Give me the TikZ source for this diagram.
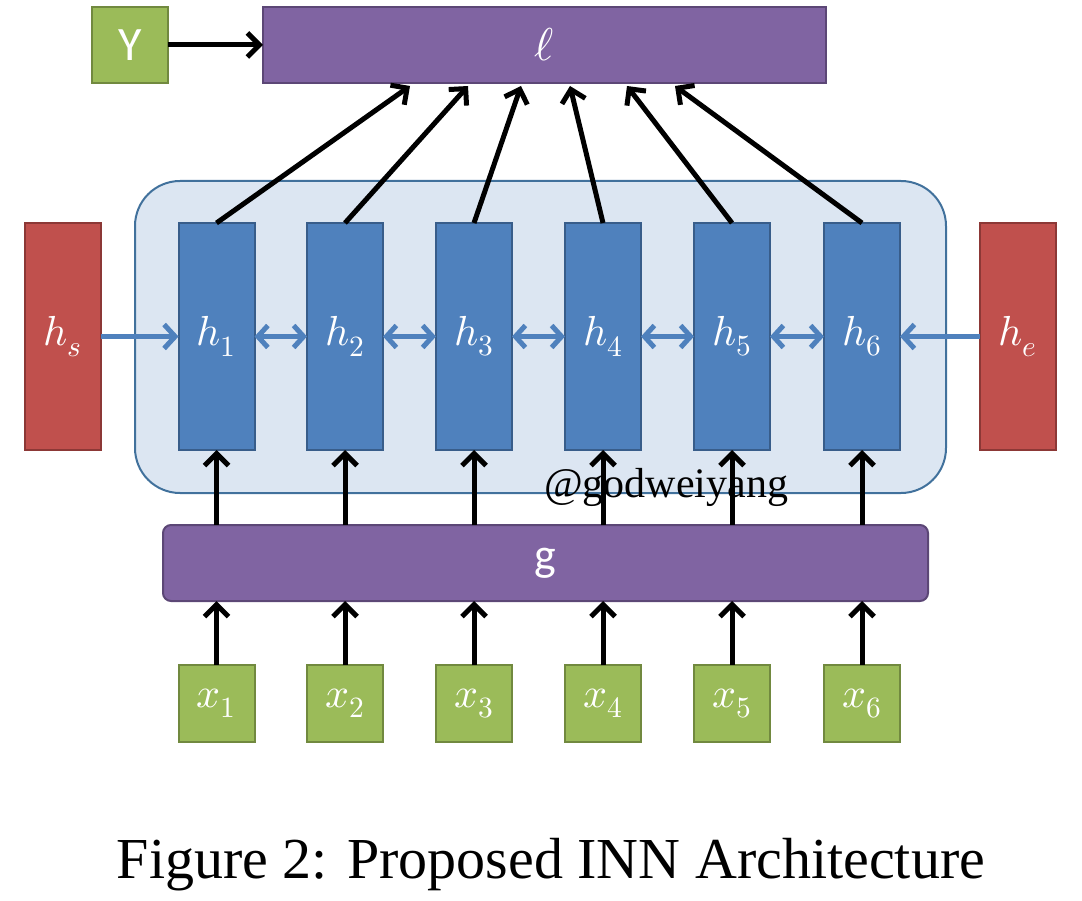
\documentclass[tikz,border=0pt]{standalone}
\usepackage{fontspec}
\usepackage{unicode-math}
\setmainfont{Liberation Serif}
\setmathfont{Latin Modern Math}
\newfontfamily\calfont{Carlito}
\usetikzlibrary{arrows.meta}
\definecolor{grfill}{HTML}{9BBB59}
\definecolor{grdraw}{HTML}{71893F}
\definecolor{pufill}{HTML}{8064A2}
\definecolor{pudraw}{HTML}{5C4776}
\definecolor{blfill}{HTML}{4F81BD}
\definecolor{bldraw}{HTML}{385D8A}
\definecolor{rdfill}{HTML}{C0504D}
\definecolor{rddraw}{HTML}{8C3836}
\definecolor{bgfill}{HTML}{DCE6F2}
\definecolor{bgdraw}{HTML}{41719C}
\tikzset{
  box/.style={inner sep=0pt, outer sep=0pt, line width=2pt, text=white},
  greenbox/.style={box, fill=grfill, draw=grdraw},
  purplebox/.style={box, fill=pufill, draw=pudraw},
  bluebox/.style={box, fill=blfill, draw=bldraw},
  redbox/.style={box, fill=rdfill, draw=rddraw},
  blk/.style={line width=5pt, black, -{Straight Barb[length=12pt,width=24pt,line width=5pt]}},
  blu/.style={line width=5pt, blfill, -{Straight Barb[length=11pt,width=24pt,line width=5pt]}},
  bluboth/.style={line width=5pt, blfill, {Straight Barb[length=10pt,width=22pt,line width=5pt]}-{Straight Barb[length=10pt,width=22pt,line width=5pt]}},
}
\begin{document}
\begin{tikzpicture}[x=1pt,y=-1pt]
\useasboundingbox (0,0) rectangle (1082,901);
% background container
\node[box, fill=bgfill, draw=bgdraw, rounded corners=45pt, minimum width=811pt, minimum height=312pt] (bg) at (540.5,337) {};
% top
\node[greenbox, minimum width=76pt, minimum height=76pt] (Y) at (130,45) {\calfont\fontsize{48}{50}\selectfont Y};
\node[purplebox, minimum width=563pt, minimum height=76pt] (L) at (544.5,45) {\fontsize{46}{48}\selectfont$\ell$};
% side
\node[redbox, minimum width=76pt, minimum height=227pt] (hs) at (63,336.5) {\fontsize{42}{46}\selectfont$h_s$};
\node[redbox, minimum width=76pt, minimum height=227pt] (he) at (1017.5,336.5) {\fontsize{42}{46}\selectfont$h_e$};
% g
\node[purplebox, rounded corners=8pt, minimum width=765pt, minimum height=76pt] (g) at (545.5,563) {\calfont\fontsize{46}{48}\selectfont g};
% h and x
\foreach \i/\xx in {1/216.5,2/345,3/474,4/603,5/732,6/862}{
  \node[bluebox, minimum width=76pt, minimum height=227pt] (h\i) at (\xx,336.5) {\fontsize{42}{46}\selectfont$h_{\i}$};
  \node[greenbox, minimum width=76pt, minimum height=77pt] (x\i) at (\xx,703.5) {\fontsize{42}{46}\selectfont$x_{\i}$};
}
% watermark
\node[inner sep=0pt, anchor=base west] (wm) at (544,497) {\fontsize{42}{46}\selectfont @godweiyang};
% arrows
\draw[blk] (Y) -- (L);
\foreach \i in {1,...,6}{
  \draw[blk] (x\i) -- (x\i |- g.south);
  \draw[blk] (g.north -| h\i) -- (h\i);
}
\coordinate (t1) at (410,86);
\coordinate (t2) at (468,86);
\coordinate (t3) at (521,86);
\coordinate (t4) at (570,86);
\coordinate (t5) at (627,86);
\coordinate (t6) at (675,86);
\foreach \i in {1,...,6}{
  \draw[blk] (h\i.north) -- (t\i);
}
\draw[blu] (hs.east) -- (h1.west);
\draw[blu] (he.west) -- (h6.east);
\draw[bluboth] (h1.east) -- (h2.west);
\draw[bluboth] (h2.east) -- (h3.west);
\draw[bluboth] (h3.east) -- (h4.west);
\draw[bluboth] (h4.east) -- (h5.west);
\draw[bluboth] (h5.east) -- (h6.west);
% caption
\node[inner sep=0pt, anchor=base] (cap) at (551,878) {\fontsize{58}{62}\selectfont Figure 2: Proposed INN Architecture};
\end{tikzpicture}
\end{document}
